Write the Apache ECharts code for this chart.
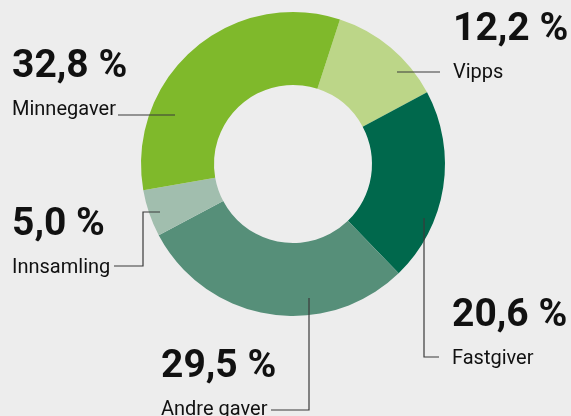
<!DOCTYPE html>
<html lang="no">

<head>
    <meta charset="UTF-8">
    <title>Inntekter</title>
    <script src="https://cdn.jsdelivr.net/npm/echarts@6/dist/echarts.min.js"></script>
    <style>
        html, body { margin: 0; padding: 0; background: #ededed; }
        #main { width: 571px; height: 416px; }
    </style>
</head>

<body>
    <div id="main"></div>
    <script type="text/javascript">
        // data
        var categories = ['Vipps', 'Fastgiver', 'Andre gaver', 'Innsamling', 'Minnegaver'];
        var shares = [12.2, 20.6, 29.5, 5.0, 32.8];
        var colors = ['#bcd688', '#00684c', '#568f79', '#a1beae', '#7fb92b'];

        // label box (top-left) and leader line, per slice
        var labelPos = [
            [453, 5],
            [452, 291],
            [161, 342],
            [12, 200],
            [12, 42]
        ];
        var leaders = [
            [[397, 72], [440, 72]],
            [[424, 218], [424, 357], [439, 357]],
            [[309, 298], [309, 410], [271, 410]],
            [[160, 212], [143, 212], [143, 266], [114, 266]],
            [[175, 115], [118, 115]]
        ];

        var chart = echarts.init(document.getElementById('main'));
        var option = {
            backgroundColor: '#ededed',
            animation: false,
            // leader lines drawn on top of the ring
            graphic: leaders.map(function (pts) {
                return {
                    type: 'polyline',
                    z: 100,
                    silent: true,
                    shape: { points: pts },
                    style: { stroke: '#3a3a3a', lineWidth: 1.2, fill: null }
                };
            }),
            series: [{
                type: 'pie',
                center: [293, 164],
                radius: [79, 152],
                startAngle: 72,
                clockwise: true,
                silent: true,
                emphasis: { disabled: true },
                itemStyle: { borderWidth: 0 },
                data: categories.map(function (c, i) {
                    return { name: c, value: shares[i], itemStyle: { color: colors[i] } };
                }),
                label: {
                    show: true,
                    position: 'outside',
                    overflow: 'none',
                    edgeDistance: 0,
                    formatter: function (p) {
                        return '{v|' + p.value.toFixed(1).replace('.', ',') + ' %}\n{n|' + p.name + '}';
                    },
                    rich: {
                        v: {
                            fontFamily: 'Roboto',
                            fontWeight: 'bold',
                            fontSize: 39,
                            lineHeight: 50,
                            color: '#111'
                        },
                        n: {
                            fontFamily: 'Roboto',
                            fontSize: 20,
                            lineHeight: 36,
                            color: '#111'
                        }
                    }
                },
                labelLine: { show: false },
                labelLayout: function (params) {
                    var i = params.dataIndex;
                    return {
                        x: labelPos[i][0],
                        y: labelPos[i][1],
                        align: 'left',
                        verticalAlign: 'top'
                    };
                }
            }]
        };
        chart.setOption(option);
    </script>
</body>

</html>
